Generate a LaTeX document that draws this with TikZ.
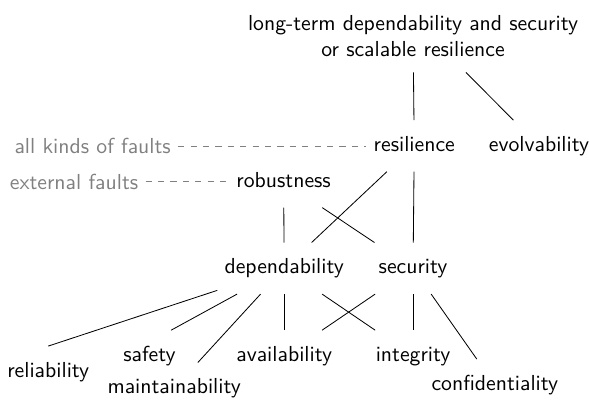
\documentclass[tikz,border=0pt]{standalone}
\usepackage{tikz}
\usetikzlibrary{positioning, calc}

\begin{document}
\begin{tikzpicture}[
    font=\sffamily\fontsize{10.5}{12.6}\selectfont,
    termnode/.style={text height=1.5ex, text depth=.25ex, inner ysep=8.5pt},
    faultnode/.style={text=gray}
]
\useasboundingbox (0, 0) rectangle (10.01, 6.8);

\node[align=center, inner ysep=7.2pt](top) at (7.02, 6.18) {long-term dependability and security\\or scalable resilience};

\node[termnode](res) at (7.04, 4.32) {resilience};
\node[termnode](evo) at (9.16, 4.32) {evolvability};

\node[termnode](rob) at (4.82, 3.71) {robustness};

\node[termnode](dep) at (4.83, 2.24) {dependability};
\node[termnode](sec) at (7.02, 2.24) {security};

\node[termnode](rel) at (0.82, 0.48) {reliability};
\node[termnode](saf) at (2.54, 0.75) {safety};
\node[termnode](maint) at (2.96, 0.20) {maintainability};
\node[termnode](avail) at (4.83, 0.75) {availability};
\node[termnode](integ) at (7.02, 0.75) {integrity};
\node[termnode](conf) at (8.41, 0.26) {confidentiality};

\node[faultnode, left=3.2cm of res](allk) {all kinds of faults};
\node[faultnode, left=1.42cm of rob](ext) {external faults};

\draw (top) -- (res);
\draw ($(top.south)+(0.9, 0)$) -- (evo);

\draw (res) -- (dep);
\draw (res) -- (sec);
\draw (rob) -- (dep);
\draw (rob) -- (sec);

\draw (dep) -- (rel.north);
\draw (dep) -- (saf.50);
\draw (dep) -- (maint);
\draw (dep) -- (avail);
\draw (dep) -- (integ);

\draw (sec) -- (avail);
\draw (sec) -- (integ);
\draw (sec) -- (conf);

\draw[dashed, gray] (allk) -- (res);
\draw[dashed, gray] (ext) -- (rob);
\end{tikzpicture}
\end{document}
